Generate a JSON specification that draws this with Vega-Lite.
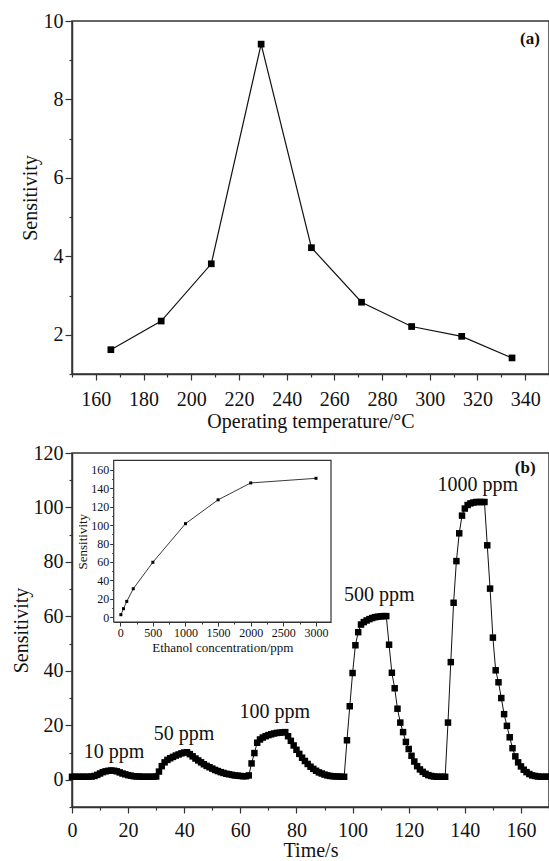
{
  "$schema": "https://vega.github.io/schema/vega-lite/v6.json",
  "background": "white",
  "padding": {"left": 10, "top": 10, "right": 0, "bottom": 0},
  "datasets": {
    "temp": [
      {"T": 166.3, "S": 1.62}, {"T": 187.4, "S": 2.35}, {"T": 208.4, "S": 3.81},
      {"T": 229.3, "S": 9.41}, {"T": 250.4, "S": 4.22}, {"T": 271.4, "S": 2.83},
      {"T": 292.4, "S": 2.21}, {"T": 313.4, "S": 1.96}, {"T": 334.5, "S": 1.41}
    ],
    "resp": [
      {"t": 0, "s": 1.1}, {"t": 1, "s": 1.1}, {"t": 2, "s": 1.1}, {"t": 3, "s": 1.1}, {"t": 4, "s": 1.1},
      {"t": 5, "s": 1.1}, {"t": 6, "s": 1.1}, {"t": 7, "s": 1.2}, {"t": 8, "s": 1.4}, {"t": 9, "s": 1.8},
      {"t": 10, "s": 2.3}, {"t": 11, "s": 2.8}, {"t": 12, "s": 3.1}, {"t": 13, "s": 3.3}, {"t": 14, "s": 3.4},
      {"t": 15, "s": 3.3}, {"t": 16, "s": 3.1}, {"t": 17, "s": 2.7}, {"t": 18, "s": 2.3}, {"t": 19, "s": 2.0},
      {"t": 20, "s": 1.7}, {"t": 21, "s": 1.5}, {"t": 22, "s": 1.3}, {"t": 23, "s": 1.2}, {"t": 24, "s": 1.2},
      {"t": 25, "s": 1.1}, {"t": 26, "s": 1.1}, {"t": 27, "s": 1.1}, {"t": 28, "s": 1.1}, {"t": 29, "s": 1.1},
      {"t": 30, "s": 1.2}, {"t": 31, "s": 3.0}, {"t": 32, "s": 5.0}, {"t": 33, "s": 6.4}, {"t": 34, "s": 7.3},
      {"t": 35, "s": 7.9}, {"t": 36, "s": 8.4}, {"t": 37, "s": 8.9}, {"t": 38, "s": 9.3}, {"t": 39, "s": 9.7},
      {"t": 40, "s": 10.0}, {"t": 41, "s": 10.1}, {"t": 42, "s": 9.4}, {"t": 43, "s": 8.6}, {"t": 44, "s": 7.8},
      {"t": 45, "s": 7.1}, {"t": 46, "s": 6.4}, {"t": 47, "s": 5.7}, {"t": 48, "s": 5.1}, {"t": 49, "s": 4.6},
      {"t": 50, "s": 4.1}, {"t": 51, "s": 3.6}, {"t": 52, "s": 3.2}, {"t": 53, "s": 2.8}, {"t": 54, "s": 2.5},
      {"t": 55, "s": 2.2}, {"t": 56, "s": 2.0}, {"t": 57, "s": 1.8}, {"t": 58, "s": 1.6}, {"t": 59, "s": 1.5},
      {"t": 60, "s": 1.4}, {"t": 61, "s": 1.3}, {"t": 62, "s": 1.3}, {"t": 63, "s": 1.6}, {"t": 64, "s": 6.0},
      {"t": 65, "s": 9.8}, {"t": 66, "s": 13.6}, {"t": 67, "s": 14.8}, {"t": 68, "s": 15.5}, {"t": 69, "s": 16.0},
      {"t": 70, "s": 16.4}, {"t": 71, "s": 16.7}, {"t": 72, "s": 17.0}, {"t": 73, "s": 17.2}, {"t": 74, "s": 17.3},
      {"t": 75, "s": 17.4}, {"t": 76, "s": 17.5}, {"t": 77, "s": 16.0}, {"t": 78, "s": 14.3}, {"t": 79, "s": 12.6},
      {"t": 80, "s": 11.0}, {"t": 81, "s": 9.5}, {"t": 82, "s": 8.1}, {"t": 83, "s": 6.9}, {"t": 84, "s": 5.8},
      {"t": 85, "s": 4.8}, {"t": 86, "s": 4.0}, {"t": 87, "s": 3.3}, {"t": 88, "s": 2.7}, {"t": 89, "s": 2.3},
      {"t": 90, "s": 1.9}, {"t": 91, "s": 1.6}, {"t": 92, "s": 1.4}, {"t": 93, "s": 1.3}, {"t": 94, "s": 1.2},
      {"t": 95, "s": 1.2}, {"t": 96, "s": 1.1}, {"t": 97, "s": 1.1}, {"t": 98, "s": 14.5}, {"t": 99, "s": 27.0},
      {"t": 100, "s": 39.2}, {"t": 101, "s": 49.4}, {"t": 102, "s": 54.2}, {"t": 103, "s": 57.0}, {"t": 104, "s": 57.9},
      {"t": 105, "s": 58.5}, {"t": 106, "s": 59.0}, {"t": 107, "s": 59.4}, {"t": 108, "s": 59.7}, {"t": 109, "s": 59.9},
      {"t": 110, "s": 60.0}, {"t": 111, "s": 60.1}, {"t": 112, "s": 60.1}, {"t": 113, "s": 49.6}, {"t": 114, "s": 39.3},
      {"t": 115, "s": 33.6}, {"t": 116, "s": 26.1}, {"t": 117, "s": 21.0}, {"t": 118, "s": 17.5}, {"t": 119, "s": 13.9},
      {"t": 120, "s": 11.3}, {"t": 121, "s": 8.8}, {"t": 122, "s": 6.7}, {"t": 123, "s": 5.0}, {"t": 124, "s": 3.8},
      {"t": 125, "s": 2.9}, {"t": 126, "s": 2.2}, {"t": 127, "s": 1.7}, {"t": 128, "s": 1.4}, {"t": 129, "s": 1.2},
      {"t": 130, "s": 1.1}, {"t": 131, "s": 1.1}, {"t": 132, "s": 1.1}, {"t": 133, "s": 1.1}, {"t": 134, "s": 21.0},
      {"t": 135, "s": 43.2}, {"t": 136, "s": 65.0}, {"t": 137, "s": 80.3}, {"t": 138, "s": 90.5}, {"t": 139, "s": 97.0},
      {"t": 140, "s": 99.6}, {"t": 141, "s": 100.9}, {"t": 142, "s": 101.5}, {"t": 143, "s": 101.8}, {"t": 144, "s": 102.0},
      {"t": 145, "s": 102.0}, {"t": 146, "s": 102.0}, {"t": 147, "s": 102.0}, {"t": 148, "s": 86.1}, {"t": 149, "s": 70.2},
      {"t": 150, "s": 52.2}, {"t": 151, "s": 40.2}, {"t": 152, "s": 35.8}, {"t": 153, "s": 30.0}, {"t": 154, "s": 24.1},
      {"t": 155, "s": 19.8}, {"t": 156, "s": 15.6}, {"t": 157, "s": 11.6}, {"t": 158, "s": 8.6}, {"t": 159, "s": 6.4},
      {"t": 160, "s": 4.9}, {"t": 161, "s": 3.7}, {"t": 162, "s": 2.8}, {"t": 163, "s": 2.1}, {"t": 164, "s": 1.6},
      {"t": 165, "s": 1.4}, {"t": 166, "s": 1.2}, {"t": 167, "s": 1.1}, {"t": 168, "s": 1.1}, {"t": 169, "s": 1.1},
      {"t": 170, "s": 1.1}
    ],
    "labels": [
      {"t": 15, "s": 8, "label": "10 ppm"},
      {"t": 39.9, "s": 14.7, "label": "50 ppm"},
      {"t": 72.3, "s": 22.7, "label": "100 ppm"},
      {"t": 109.5, "s": 65.5, "label": "500 ppm"},
      {"t": 144.6, "s": 105.9, "label": "1000 ppm"}
    ],
    "conc": [
      {"c": 10, "v": 2.9}, {"c": 50, "v": 9.4}, {"c": 100, "v": 17.3}, {"c": 200, "v": 31.0},
      {"c": 500, "v": 59.7}, {"c": 1000, "v": 101.5}, {"c": 1500, "v": 127.3}, {"c": 2000, "v": 145.6},
      {"c": 3000, "v": 150.6}
    ]
  },
  "bounds": "flush",
  "spacing": 79,
  "vconcat": [
    {
      "width": 477,
      "height": 353,
      "layer": [
        {
          "data": {"name": "temp"},
          "mark": {"type": "line", "color": "#111", "strokeWidth": 1.2},
          "encoding": {
            "x": {
              "field": "T", "type": "quantitative",
              "scale": {"domain": [150, 350], "nice": false, "zero": false},
              "axis": {
                "title": "Operating temperature/°C", "orient": "bottom",
                "values": [160, 180, 200, 220, 240, 260, 280, 300, 320, 340],
                "tickSize": 6, "labelPadding": 9, "titlePadding": 2, "labelFlush": false, "labelOverlap": false
              }
            },
            "y": {
              "field": "S", "type": "quantitative",
              "scale": {"domain": [1, 10], "nice": false, "zero": false},
              "axis": {
                "title": "Sensitivity", "orient": "left",
                "values": [2, 4, 6, 8, 10],
                "tickSize": 7, "labelPadding": 2, "titlePadding": 3, "labelFlush": false, "labelOverlap": false
              }
            }
          }
        },
        {
          "data": {"name": "temp"},
          "mark": {"type": "point", "shape": "square", "filled": true, "size": 45, "color": "#000", "opacity": 1},
          "encoding": {
            "x": {"field": "T", "type": "quantitative", "scale": {"domain": [150, 350], "nice": false, "zero": false}, "axis": null},
            "y": {"field": "S", "type": "quantitative", "scale": {"domain": [1, 10], "nice": false, "zero": false}, "axis": null}
          }
        },
        {
          "data": {"values": [{"tag": "(a)"}]},
          "mark": {"type": "text", "fontWeight": "bold", "fontSize": 17, "align": "center", "baseline": "alphabetic", "font": "Liberation Serif", "color": "#111"},
          "encoding": {
            "x": {"datum": 342, "type": "quantitative", "axis": null},
            "y": {"datum": 9.42, "type": "quantitative", "axis": null},
            "text": {"field": "tag"}
          }
        },
        {
          "data": {"name": "temp"},
          "mark": {"type": "point", "opacity": 0},
          "encoding": {
            "x": {
              "field": "T", "type": "quantitative",
              "scale": {"domain": [150, 350], "nice": false, "zero": false},
              "axis": {"orient": "bottom", "title": null, "labels": false, "domain": false, "tickSize": 3,
                       "values": [150, 170, 190, 210, 230, 250, 270, 290, 310, 330, 350]}
            },
            "y": {
              "field": "S", "type": "quantitative",
              "scale": {"domain": [1, 10], "nice": false, "zero": false},
              "axis": {"orient": "left", "title": null, "labels": false, "domain": false, "tickSize": 3,
                       "values": [1, 3, 5, 7, 9]}
            }
          }
        }
      ],
      "resolve": {"axis": {"x": "independent", "y": "independent"}}
    },
    {
      "width": 477,
      "height": 354,
      "layer": [
        {
          "layer": [
            {
              "data": {"name": "resp"},
              "mark": {"type": "line", "color": "#111", "strokeWidth": 1},
              "encoding": {
                "x": {
                  "field": "t", "type": "quantitative",
                  "scale": {"domain": [0, 170], "nice": false, "zero": false},
                  "axis": {
                    "title": "Time/s", "orient": "bottom",
                    "values": [0, 20, 40, 60, 80, 100, 120, 140, 160],
                    "tickSize": 6, "labelPadding": 7, "titlePadding": 0, "labelFlush": false, "labelOverlap": false
                  }
                },
                "y": {
                  "field": "s", "type": "quantitative",
                  "scale": {"domain": [-10, 120], "nice": false, "zero": false},
                  "axis": {
                    "title": "Sensitivity", "orient": "left",
                    "values": [0, 20, 40, 60, 80, 100, 120],
                    "tickSize": 7, "labelPadding": 2, "titlePadding": 2, "labelFlush": false, "labelOverlap": false
                  }
                }
              }
            },
            {
              "data": {"name": "resp"},
              "mark": {"type": "point", "shape": "square", "filled": true, "size": 42, "color": "#000", "opacity": 1},
              "encoding": {
                "x": {"field": "t", "type": "quantitative", "scale": {"domain": [0, 170], "nice": false, "zero": false}, "axis": null},
                "y": {"field": "s", "type": "quantitative", "scale": {"domain": [-10, 120], "nice": false, "zero": false}, "axis": null}
              }
            },
            {
              "data": {"name": "labels"},
              "mark": {"type": "text", "fontSize": 20, "align": "center", "baseline": "alphabetic", "font": "Liberation Serif", "color": "#111"},
              "encoding": {
                "x": {"field": "t", "type": "quantitative", "scale": {"domain": [0, 170], "nice": false, "zero": false}, "axis": null},
                "y": {"field": "s", "type": "quantitative", "scale": {"domain": [-10, 120], "nice": false, "zero": false}, "axis": null},
                "text": {"field": "label"}
              }
            },
            {
              "data": {"values": [{"tag": "(b)"}]},
              "mark": {"type": "text", "fontWeight": "bold", "fontSize": 17, "align": "center", "baseline": "alphabetic", "font": "Liberation Serif", "color": "#111"},
              "encoding": {
                "x": {"datum": 161.5, "type": "quantitative", "axis": null},
                "y": {"datum": 112.6, "type": "quantitative", "axis": null},
                "text": {"field": "tag"}
              }
            },
            {
              "data": {"name": "resp"},
              "mark": {"type": "point", "opacity": 0},
              "encoding": {
                "x": {
                  "field": "t", "type": "quantitative",
                  "scale": {"domain": [0, 170], "nice": false, "zero": false},
                  "axis": {"orient": "bottom", "title": null, "labels": false, "domain": false, "tickSize": 3,
                           "values": [10, 30, 50, 70, 90, 110, 130, 150, 170]}
                },
                "y": {
                  "field": "s", "type": "quantitative",
                  "scale": {"domain": [-10, 120], "nice": false, "zero": false},
                  "axis": {"orient": "left", "title": null, "labels": false, "domain": false, "tickSize": 3,
                           "values": [-10, 10, 30, 50, 70, 90, 110]}
                }
              }
            }
          ],
          "resolve": {"axis": {"x": "independent", "y": "independent"}}
        },
        {
          "layer": [
            {
              "data": {"values": [{"box": "inset"}]},
              "mark": {"type": "rect", "fill": "white", "stroke": "#333", "strokeWidth": 1.2},
              "encoding": {
                "x": {
                  "datum": -100, "type": "quantitative",
                  "scale": {"domain": [-100, 3230], "range": [41.7, 259], "nice": false, "zero": false},
                  "axis": {
                    "title": "Ethanol concentration/ppm", "orient": "bottom", "offset": -185, "format": "d",
                    "values": [0, 500, 1000, 1500, 2000, 2500, 3000],
                    "tickSize": 4, "labelFontSize": 12, "titleFontSize": 13, "labelPadding": 1, "titlePadding": 3,
                    "domainWidth": 1.2, "tickWidth": 1, "labelFlush": false, "labelOverlap": false
                  }
                },
                "x2": {"datum": 3230},
                "y": {
                  "datum": -5, "type": "quantitative",
                  "scale": {"domain": [-5, 170], "range": [169, 7.4], "nice": false, "zero": false},
                  "axis": {
                    "title": "Sensitivity", "orient": "left", "offset": -41.7, "format": "d",
                    "values": [0, 20, 40, 60, 80, 100, 120, 140, 160],
                    "tickSize": 4, "labelFontSize": 12, "titleFontSize": 13, "labelPadding": 1, "titlePadding": 1,
                    "domainWidth": 1.2, "tickWidth": 1, "labelFlush": false, "labelOverlap": false
                  }
                },
                "y2": {"datum": 170}
              }
            },
            {
              "data": {"name": "conc"},
              "mark": {"type": "line", "color": "#222", "strokeWidth": 0.9},
              "encoding": {
                "x": {"field": "c", "type": "quantitative", "scale": {"domain": [-100, 3230], "range": [41.7, 259], "nice": false, "zero": false}, "axis": null},
                "y": {"field": "v", "type": "quantitative", "scale": {"domain": [-5, 170], "range": [169, 7.4], "nice": false, "zero": false}, "axis": null}
              }
            },
            {
              "data": {"name": "conc"},
              "mark": {"type": "point", "shape": "square", "filled": true, "size": 9, "color": "#000", "opacity": 1},
              "encoding": {
                "x": {"field": "c", "type": "quantitative", "scale": {"domain": [-100, 3230], "range": [41.7, 259], "nice": false, "zero": false}, "axis": null},
                "y": {"field": "v", "type": "quantitative", "scale": {"domain": [-5, 170], "range": [169, 7.4], "nice": false, "zero": false}, "axis": null}
              }
            },
            {
              "data": {"name": "conc"},
              "mark": {"type": "point", "opacity": 0},
              "encoding": {
                "x": {
                  "field": "c", "type": "quantitative",
                  "scale": {"domain": [-100, 3230], "range": [41.7, 259], "nice": false, "zero": false},
                  "axis": {"orient": "bottom", "offset": -185, "title": null, "labels": false, "domain": false, "tickSize": 2, "tickWidth": 1,
                           "values": [250, 750, 1250, 1750, 2250, 2750]}
                },
                "y": {
                  "field": "v", "type": "quantitative",
                  "scale": {"domain": [-5, 170], "range": [169, 7.4], "nice": false, "zero": false},
                  "axis": {"orient": "left", "offset": -41.7, "title": null, "labels": false, "domain": false, "tickSize": 2, "tickWidth": 1,
                           "values": [10, 30, 50, 70, 90, 110, 130, 150]}
                }
              }
            }
          ],
          "resolve": {"axis": {"x": "independent", "y": "independent"}}
        }
      ],
      "resolve": {
        "scale": {"x": "independent", "y": "independent"},
        "axis": {"x": "independent", "y": "independent"}
      }
    }
  ],
  "config": {
    "view": {"stroke": "#333", "strokeWidth": 1.5},
    "axis": {
      "labelFont": "Liberation Serif", "titleFont": "Liberation Serif",
      "labelFontSize": 20, "titleFontSize": 20, "titleFontWeight": "normal",
      "labelColor": "#111", "titleColor": "#111",
      "domainColor": "#333", "domainWidth": 1.5, "tickColor": "#333", "tickWidth": 1.2,
      "grid": false, "zindex": 1
    }
  }
}
